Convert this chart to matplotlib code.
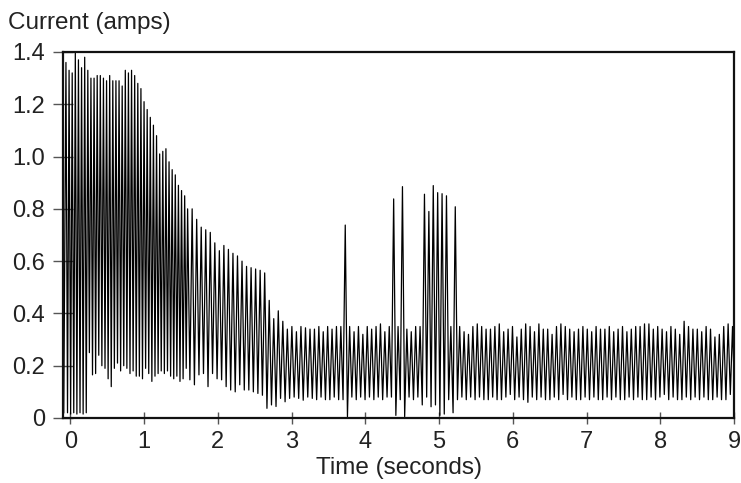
import numpy as np
import matplotlib
matplotlib.use("Agg")
import matplotlib.pyplot as plt

plt.rcParams['font.family'] = ['Liberation Sans', 'DejaVu Sans']

# peaks / troughs of the current trace
# start-up: fast oscillation (-0.06 .. 1.55 s)
a_peaks = [1.36, 1.33, 1.32, 1.40, 1.37, 1.34, 1.38, 1.33, 1.30, 1.30,
           1.31, 1.31, 1.30, 1.29, 1.31, 1.29, 1.29, 1.29, 1.27, 1.33,
           1.32, 1.33, 1.31, 1.28, 1.26, 1.21, 1.18, 1.15, 1.12, 1.08,
           1.01, 1.02, 1.03, 0.98, 0.95, 0.93, 0.89, 0.87, 0.85]
a_troughs = [0.02, 0.015, 0.02, 0.015, 0.02, 0.015, 0.02, 0.25, 0.165, 0.17,
             0.24, 0.20, 0.19, 0.15, 0.12, 0.19, 0.21, 0.18, 0.20, 0.19,
             0.17, 0.18, 0.16, 0.16, 0.15, 0.19, 0.17, 0.14, 0.16, 0.17,
             0.18, 0.17, 0.18, 0.16, 0.15, 0.16, 0.14, 0.15, 0.19]
# decay (1.59 .. 3.25 s)
b_peaks = [0.80, 0.80, 0.76, 0.73, 0.72, 0.71, 0.67, 0.64, 0.66, 0.645,
           0.63, 0.62, 0.60, 0.58, 0.575, 0.57, 0.565, 0.555, 0.45, 0.38,
           0.41, 0.37, 0.34, 0.35, 0.33, 0.35, 0.345, 0.34]
b_troughs = [0.146, 0.127, 0.165, 0.17, 0.12, 0.17, 0.15, 0.146, 0.12, 0.107,
             0.10, 0.127, 0.107, 0.107, 0.10, 0.094, 0.087, 0.037, 0.05, 0.044,
             0.075, 0.062, 0.075, 0.08, 0.075, 0.068, 0.08, 0.075]
# steady state with spikes (3.31 .. 8.98 s)
c_peaks = [0.34, 0.35, 0.33, 0.35, 0.34, 0.35, 0.35, 0.738, 0.35, 0.33,
           0.35, 0.32, 0.35, 0.34, 0.35, 0.36, 0.33, 0.35, 0.838, 0.35,
           0.885, 0.34, 0.33, 0.35, 0.35, 0.856, 0.79, 0.889, 0.862, 0.858,
           0.85, 0.35, 0.808, 0.35, 0.33, 0.32, 0.35, 0.36, 0.35, 0.34,
           0.34, 0.35, 0.36, 0.33, 0.34, 0.35, 0.31, 0.34, 0.36, 0.35,
           0.33, 0.36, 0.34, 0.34, 0.32, 0.35, 0.36, 0.35, 0.34, 0.33,
           0.34, 0.35, 0.34, 0.33, 0.35, 0.34, 0.34, 0.35, 0.33, 0.34,
           0.35, 0.33, 0.34, 0.35, 0.35, 0.36, 0.36, 0.34, 0.35, 0.34,
           0.33, 0.35, 0.34, 0.32, 0.37, 0.35, 0.34, 0.34, 0.33, 0.35,
           0.34, 0.31, 0.32, 0.35, 0.36, 0.35]
c_troughs = [0.07, 0.08, 0.07, 0.07, 0.08, 0.07, 0.07, 0.005, 0.08, 0.07,
             0.08, 0.07, 0.08, 0.07, 0.08, 0.07, 0.08, 0.08, 0.01, 0.07,
             0.005, 0.08, 0.07, 0.08, 0.05, 0.08, 0.043, 0.05, 0.01, 0.015,
             0.07, 0.02, 0.07, 0.08, 0.07, 0.08, 0.07, 0.08, 0.07, 0.07,
             0.08, 0.07, 0.07, 0.08, 0.09, 0.07, 0.08, 0.07, 0.06, 0.08,
             0.07, 0.08, 0.07, 0.07, 0.08, 0.07, 0.09, 0.07, 0.08, 0.07,
             0.07, 0.08, 0.07, 0.08, 0.07, 0.07, 0.08, 0.07, 0.08, 0.07,
             0.07, 0.08, 0.07, 0.08, 0.07, 0.07, 0.08, 0.07, 0.08, 0.09,
             0.07, 0.08, 0.07, 0.07, 0.08, 0.07, 0.08, 0.07, 0.08, 0.07,
             0.07, 0.08, 0.07, 0.07, 0.09, 0.07]
seg_start = [-0.06, 1.59, 3.31]
seg_end = [1.55, 3.25, 8.98]
start_value = 0.02

yticks = [0, 0.2, 0.4, 0.6, 0.8, 1.0, 1.2, 1.4]
ytick_labels = ['0', '0.2', '0.4', '0.6', '0.8', '1.0', '1.2', '1.4']
xticks = [0, 1, 2, 3, 4, 5, 6, 7, 8, 9]

# build the zigzag: peak, then trough half a step later
t = [-0.09]
v = [start_value]
for pk, tr, s, e in zip([a_peaks, b_peaks, c_peaks], [a_troughs, b_troughs, c_troughs],
                        seg_start, seg_end):
    tp = np.linspace(s, e, len(pk))
    step = tp[1] - tp[0]
    for i in range(len(pk)):
        t += [tp[i], tp[i] + step / 2]
        v += [pk[i], tr[i]]

fig = plt.figure(figsize=(7.41, 4.83), dpi=100)
ax = fig.add_axes([63/741, 1 - 418/483, (734-63)/741, (418-52)/483])
ax.plot(t, v, color='black', lw=0.9)

ax.set_xlim(-0.1, 9)
ax.set_ylim(0, 1.4)
ax.set_xticks(xticks)
ax.set_yticks(yticks)
ax.set_yticklabels(ytick_labels)
for s in ax.spines.values():
    s.set_linewidth(1.6)
    s.set_color('#111111')
ax.tick_params(axis='x', direction='inout', length=8, width=1, color='#555555',
               labelsize=17, labelcolor='#222222', pad=5)
ax.tick_params(axis='y', direction='inout', length=14, width=1, color='#555555',
               labelsize=17, labelcolor='#222222', pad=6)
ax.set_xlabel('Time (seconds)', fontsize=17.5, color='#222222', labelpad=3)
fig.text(8/741, 1 - 23/483, 'Current (amps)', fontsize=17.5, color='#222222',
         ha='left', va='center')

fig.savefig('out.png', dpi=100)
